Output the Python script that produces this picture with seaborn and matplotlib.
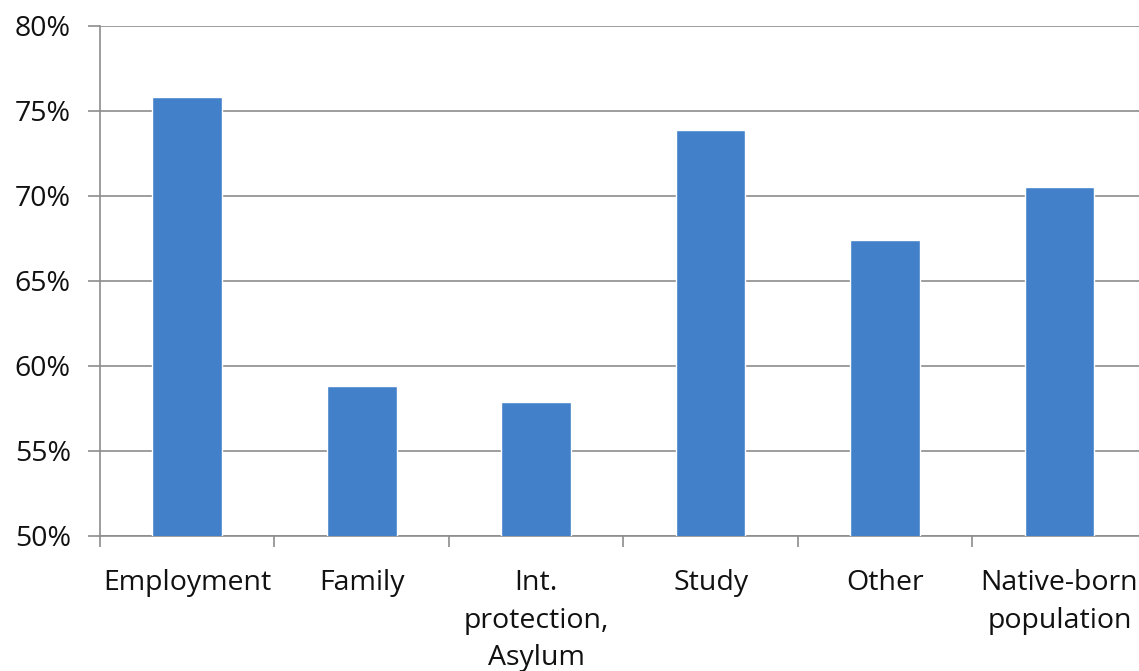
import numpy as np
import pandas as pd
import matplotlib
matplotlib.use("Agg")
import matplotlib.pyplot as plt
import seaborn as sns

categories = ["Employment", "Family", "Int.\nprotection,\nAsylum", "Study", "Other",
              "Native-born\npopulation"]
rates = [75.8, 58.8, 57.9, 73.9, 67.4, 70.5]

df = pd.DataFrame({"category": categories, "rate": rates})

sns.set_style("white")
plt.rcParams["font.family"] = ["Open Sans", "DejaVu Sans"]

fig = plt.figure(figsize=(11.39, 6.71), dpi=100)
ax = fig.add_axes([0.0878, 0.2012, 0.919, 0.7601])

sns.barplot(data=df, x="category", y="rate", color="#4281CA", width=0.4,
            saturation=1, ax=ax, zorder=3)

ax.set_ylim(50, 80)
ax.set_xlim(-0.5, len(categories) - 0.5)
yt = np.arange(50, 81, 5)
ax.set_yticks(yt)
ax.set_yticklabels([f"{v}%" for v in yt], fontsize=20.5, color="#111111")
ax.yaxis.grid(True, color="#8c8c8c", linewidth=1.2, zorder=0)
ax.set_axisbelow(True)

ax.set_xticks(range(len(categories)))
ax.set_xticklabels(categories, fontsize=20.5, linespacing=1.45, color="#111111")
ax.set_xticks(np.arange(-0.5, len(categories), 1), minor=True)
ax.tick_params(axis="x", which="major", length=0, pad=24)
ax.tick_params(axis="x", which="minor", length=8, width=1.2, color="#8c8c8c",
               direction="out", bottom=True)
ax.tick_params(axis="y", length=9, width=1.2, color="#8c8c8c", direction="out",
               left=True, pad=12)

for s in ["top", "right"]:
    ax.spines[s].set_visible(False)
for s in ["left", "bottom"]:
    ax.spines[s].set_color("#8c8c8c")
    ax.spines[s].set_linewidth(1.2)

ax.set_xlabel("")
ax.set_ylabel("")

fig.savefig("out.png", dpi=100)
